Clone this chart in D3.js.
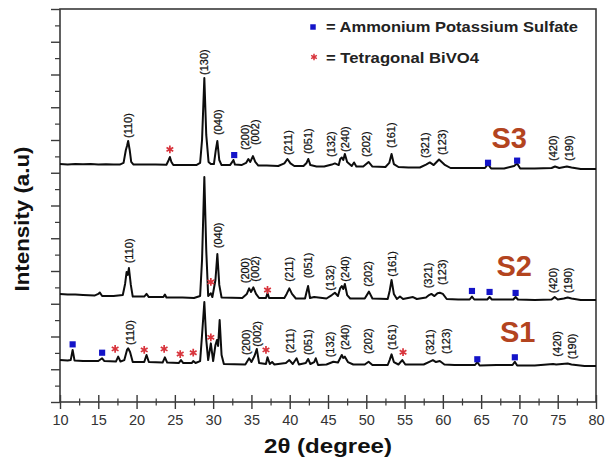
<!DOCTYPE html>
<html>
<head>
<meta charset="utf-8">
<script src="https://cdn.jsdelivr.net/npm/d3@7"></script>
<style>
  body { margin: 0; background: #fff; }
  text { font-family: "Liberation Sans", Arial, sans-serif; }
</style>
</head>
<body>
<div id="chart"></div>
<script>
// 2theta (degree), intensity (a.u., stacked)
let s3Data = [[10.0,1453],[11.0,1450],[12.0,1453],[13.0,1452],[14.0,1453],[15.0,1450],[16.0,1452],[17.0,1450],[17.8,1450],[18.3,1460],[18.6,1539],[18.75,1563],[18.9,1594],[19.1,1539],[19.3,1466],[19.6,1450],[21.0,1450],[22.5,1450],[23.9,1449],[24.2,1478],[24.35,1496],[24.55,1466],[24.8,1447],[26.5,1447],[27.8,1447],[28.3,1460],[28.55,1600],[28.85,1979],[29.1,1631],[29.4,1466],[29.7,1453],[30.1,1453],[30.35,1539],[30.55,1594],[30.8,1478],[31.1,1447],[32.2,1447],[32.5,1466],[32.65,1478],[32.85,1450],[33.7,1447],[34.3,1460],[34.6,1484],[34.85,1466],[35.2,1502],[35.5,1466],[35.9,1444],[37.0,1444],[38.5,1441],[39.3,1457],[39.7,1484],[40.1,1457],[40.6,1441],[41.8,1441],[42.2,1460],[42.43,1484],[42.7,1447],[43.5,1438],[44.5,1438],[45.5,1450],[45.9,1457],[46.4,1447],[46.6,1484],[46.8,1493],[47.0,1478],[47.2,1515],[47.5,1466],[48.1,1441],[48.4,1463],[48.7,1438],[49.6,1438],[50.3,1466],[50.8,1438],[52.5,1435],[53.0,1460],[53.3,1515],[53.6,1453],[54.2,1435],[55.5,1432],[57.0,1432],[57.8,1450],[58.3,1463],[58.8,1447],[59.5,1481],[60.2,1450],[61.0,1429],[63.0,1429],[65.5,1429],[65.9,1453],[66.3,1426],[68.0,1426],[69.3,1441],[69.7,1457],[70.1,1426],[72.0,1426],[74.2,1429],[74.65,1438],[75.2,1429],[76.2,1438],[76.8,1432],[78.0,1423],[80.0,1423]];

let s2Data = [[10.0,660],[11.0,656],[12.0,656],[13.0,653],[14.5,650],[15.0,660],[15.2,669],[15.5,647],[17.0,647],[18.2,653],[18.5,721],[18.7,794],[18.85,776],[19.0,818],[19.25,715],[19.5,644],[21.0,644],[21.3,660],[21.6,641],[23.5,641],[23.7,656],[23.9,638],[26.0,638],[27.5,635],[28.3,647],[28.55,867],[28.85,1374],[29.1,928],[29.35,647],[29.7,664],[29.9,641],[30.3,745],[30.55,904],[30.8,715],[31.1,638],[33.8,635],[34.4,660],[34.7,694],[34.95,672],[35.25,700],[35.6,660],[36.0,635],[36.9,635],[37.1,666],[37.3,635],[39.3,635],[39.6,660],[39.95,694],[40.3,660],[40.8,632],[42.0,632],[42.2,672],[42.4,708],[42.65,635],[43.2,641],[44.8,632],[45.5,653],[45.9,667],[46.3,647],[46.6,696],[46.8,708],[47.0,690],[47.2,721],[47.5,653],[47.9,632],[49.8,632],[50.35,674],[50.8,632],[52.8,629],[53.05,678],[53.3,745],[53.6,660],[54.0,629],[54.4,644],[54.8,629],[56.1,641],[56.6,629],[57.8,638],[58.2,653],[58.5,660],[58.9,647],[59.3,664],[59.6,667],[60.0,660],[60.5,629],[62.0,626],[63.5,626],[63.8,644],[64.1,626],[65.8,626],[66.1,641],[66.4,626],[69.2,626],[69.5,641],[69.8,626],[72.0,623],[74.2,626],[74.6,641],[75.0,626],[75.8,632],[76.3,638],[76.8,632],[78.0,623],[80.0,623]];

let s1Data = [[10.0,256],[11.0,253],[11.4,256],[11.65,318],[11.9,253],[13.0,250],[15.0,250],[15.5,267],[15.8,250],[17.3,247],[17.6,277],[17.9,247],[18.4,256],[18.75,318],[18.9,328],[19.15,305],[19.5,244],[21.0,244],[21.3,287],[21.6,244],[23.4,241],[23.7,273],[24.0,241],[25.5,238],[25.8,256],[26.1,238],[27.2,238],[27.4,250],[27.7,238],[28.3,250],[28.55,409],[28.85,611],[29.1,379],[29.35,256],[29.7,358],[30.0,250],[30.3,348],[30.5,379],[30.65,342],[30.85,501],[31.1,287],[31.4,232],[34.2,229],[34.7,267],[35.0,244],[35.4,281],[35.7,324],[36.0,238],[36.9,232],[37.1,273],[37.4,232],[37.7,244],[38.0,229],[39.5,238],[39.95,256],[40.4,232],[40.9,267],[41.2,229],[42.1,238],[42.4,263],[42.7,232],[43.2,244],[43.4,267],[43.7,226],[44.8,229],[45.7,246],[46.3,241],[46.8,287],[47.0,269],[47.2,277],[47.6,244],[48.3,229],[49.8,229],[50.3,246],[50.8,226],[52.8,226],[53.05,256],[53.3,291],[53.6,244],[54.2,229],[54.7,256],[55.1,229],[57.5,229],[58.3,247],[58.7,256],[59.1,244],[59.6,250],[60.2,229],[61.5,226],[64.2,226],[64.5,244],[64.8,223],[67.0,226],[69.1,226],[69.4,246],[69.7,223],[72.0,223],[74.4,232],[74.8,229],[76.3,235],[76.8,229],[78.5,220],[80.0,220]];

// hkl labels: [2theta, intensity at label foot, text]
let s3Labels = [[18.84,1612,"(110)"],[28.8,1997,"(130)"],[30.63,1631,"(040)"],[34.16,1539,"(200)"],[35.47,1569,"(002)"],[39.78,1508,"(211)"],[42.43,1515,"(051)"],[45.35,1496,"(132)"],[47.22,1527,"(240)"],[49.92,1496,"(202)"],[53.19,1551,"(161)"],[57.67,1490,"(321)"],[59.85,1508,"(123)"],[74.38,1472,"(420)"],[76.51,1472,"(190)"]];
let s2Labels = [[19.05,847,"(110)"],[30.6,939,"(040)"],[34.16,725,"(200)"],[35.47,735,"(002)"],[39.95,735,"(211)"],[42.43,755,"(051)"],[45.26,680,"(132)"],[47.22,735,"(240)"],[50.26,704,"(202)"],[53.32,765,"(161)"],[58.1,694,"(321)"],[59.85,715,"(123)"],[74.42,664,"(420)"],[76.38,664,"(190)"]];
let s1Labels = [[19.14,348,"(110)"],[34.29,287,"(200)"],[35.69,338,"(002)"],[40.04,297,"(211)"],[42.43,287,"(051)"],[45.26,273,"(132)"],[47.22,318,"(240)"],[50.26,293,"(202)"],[53.32,318,"(161)"],[58.32,287,"(321)"],[60.37,293,"(123)"],[74.86,277,"(420)"],[76.82,261,"(190)"]];

// phase markers
let sulfateMarks = [[32.75,1508],[65.9,1461],[69.7,1474],[63.8,678],[66.1,672],[69.5,666],[11.65,352],[15.5,301],[64.5,261],[69.4,273]];
let bivo4Marks = [[24.35,1543],[29.7,733],[37.1,684],[17.2,324],[21.0,318],[23.6,324],[25.7,293],[27.4,301],[29.7,395],[36.9,318],[54.8,304]];

let sampleNames = ["S3", "S2", "S1"];
let samplePos = [[66.35,1551],[67.0,769],[67.46,368]];

let legendItems = ["= Ammonium Potassium Sulfate", "= Tetragonal BiVO4"];

let svgWidth = 606;
let svgHeight = 461;
let margin = { top: 9, right: 10, bottom: 59, left: 60 };
let width = svgWidth - margin.left - margin.right;
let height = svgHeight - margin.top - margin.bottom;

let svg = d3.select("#chart").append("svg")
    .attr("width", svgWidth)
    .attr("height", svgHeight);

let g = svg.append("g")
    .attr("transform", `translate(${margin.left}, ${margin.top})`);

let x = d3.scaleLinear().domain([10, 80]).range([0, width]);
let y = d3.scaleLinear().domain([0, 2400]).range([height, 0]);

let axisColor = "#3a3a3a";

// frame
g.append("rect")
    .attr("width", width)
    .attr("height", height)
    .attr("fill", "none")
    .attr("stroke", axisColor)
    .attr("stroke-width", 1.6);

// x axis, ticks cross the line
let xMajor = d3.range(10, 81, 5);
let xMinor = d3.range(12.5, 80, 5);

g.append("g")
    .attr("transform", `translate(0, ${height})`)
    .call(d3.axisBottom(x).tickValues(xMajor).tickSize(7).tickPadding(6).tickFormat(d3.format("d")))
    .call(a => a.select(".domain").remove())
    .call(a => a.selectAll("line").attr("stroke", axisColor).attr("stroke-width", 1.4))
    .call(a => a.selectAll("text").attr("font-size", "14.5px").attr("fill", "#333"));

g.append("g")
    .attr("transform", `translate(0, ${height})`)
    .call(d3.axisTop(x).tickValues(xMajor).tickSize(7).tickFormat(""))
    .call(a => a.select(".domain").remove())
    .call(a => a.selectAll("line").attr("stroke", axisColor).attr("stroke-width", 1.4));

[d3.axisBottom, d3.axisTop].forEach(ax => {
    g.append("g")
        .attr("transform", `translate(0, ${height})`)
        .call(ax(x).tickValues(xMinor).tickSize(3.5).tickFormat(""))
        .call(a => a.select(".domain").remove())
        .call(a => a.selectAll("line").attr("stroke", axisColor).attr("stroke-width", 1.2));
});

// y axis, no labels
g.append("g")
    .call(d3.axisLeft(y).tickValues(d3.range(0, 2401, 200)).tickSize(9).tickFormat(""))
    .call(a => a.select(".domain").remove())
    .call(a => a.selectAll("line").attr("stroke", axisColor).attr("stroke-width", 1.4));

g.append("g")
    .call(d3.axisLeft(y).tickValues(d3.range(100, 2400, 200)).tickSize(5).tickFormat(""))
    .call(a => a.select(".domain").remove())
    .call(a => a.selectAll("line").attr("stroke", axisColor).attr("stroke-width", 1.2));

// patterns
let line = d3.line()
    .x(d => x(d[0]))
    .y(d => y(d[1]));

g.selectAll(".trace")
    .data([s3Data, s2Data, s1Data])
    .enter()
    .append("path")
    .attr("class", "trace")
    .attr("d", line)
    .attr("fill", "none")
    .attr("stroke", "#0d0d0d")
    .attr("stroke-width", 2)
    .attr("stroke-linejoin", "round");

// hkl labels
g.selectAll(".hkl")
    .data(s3Labels.concat(s2Labels, s1Labels))
    .enter()
    .append("text")
    .attr("class", "hkl")
    .attr("transform", d => `translate(${x(d[0])}, ${y(d[1])}) rotate(-90)`)
    .attr("dy", "0.35em")
    .attr("font-size", "11px")
    .attr("fill", "#111")
    .attr("stroke", "#111")
    .attr("stroke-width", 0.25)
    .text(d => d[2]);

// markers
let blue = "#1414c8";
let red = "#d8343c";

g.selectAll(".sq")
    .data(sulfateMarks)
    .enter()
    .append("path")
    .attr("class", "sq")
    .attr("transform", d => `translate(${x(d[0])}, ${y(d[1])})`)
    .attr("d", d3.symbol(d3.symbolSquare, 38))
    .attr("fill", blue);

g.selectAll(".star")
    .data(bivo4Marks)
    .enter()
    .append("path")
    .attr("class", "star")
    .attr("transform", d => `translate(${x(d[0])}, ${y(d[1])})`)
    .attr("d", d3.symbol(d3.symbolAsterisk, 42))
    .attr("fill", "none")
    .attr("stroke", red)
    .attr("stroke-width", 1.7);

// sample names
g.selectAll(".sample")
    .data(sampleNames)
    .enter()
    .append("text")
    .attr("class", "sample")
    .attr("x", (d, i) => x(samplePos[i][0]))
    .attr("y", (d, i) => y(samplePos[i][1]))
    .attr("font-size", "29px")
    .attr("font-weight", "bold")
    .attr("fill", "#b3441f")
    .text(d => d);

// legend
let legend = g.append("g")
    .attr("transform", `translate(${width - 283}, 18)`);

legend.append("path")
    .attr("d", d3.symbol(d3.symbolSquare, 30))
    .attr("fill", blue);

legend.append("path")
    .attr("transform", "translate(1, 30)")
    .attr("d", d3.symbol(d3.symbolAsterisk, 30))
    .attr("fill", "none")
    .attr("stroke", red)
    .attr("stroke-width", 1.5);

legend.selectAll(".legText")
    .data(legendItems)
    .enter()
    .append("text")
    .attr("class", "legText")
    .attr("x", 13)
    .attr("y", (d, i) => 5 + i * 30.7)
    .attr("font-size", "14.5px")
    .attr("font-weight", "bold")
    .attr("fill", "#222")
    .attr("textLength", (d, i) => i === 0 ? 252 : 153)
    .attr("lengthAdjust", "spacingAndGlyphs")
    .text(d => d);

// axis titles
g.append("text")
    .attr("x", width / 2)
    .attr("y", height + 51)
    .attr("text-anchor", "middle")
    .attr("font-size", "21px")
    .attr("font-weight", "bold")
    .attr("fill", "#111")
    .attr("textLength", 128)
    .attr("lengthAdjust", "spacingAndGlyphs")
    .text("2θ (degree)");

g.append("text")
    .attr("transform", `translate(${-31}, ${210}) rotate(-90)`)
    .attr("text-anchor", "middle")
    .attr("font-size", "21px")
    .attr("font-weight", "bold")
    .attr("fill", "#111")
    .attr("textLength", 145)
    .attr("lengthAdjust", "spacingAndGlyphs")
    .text("Intensity (a.u)");
</script>
</body>
</html>
